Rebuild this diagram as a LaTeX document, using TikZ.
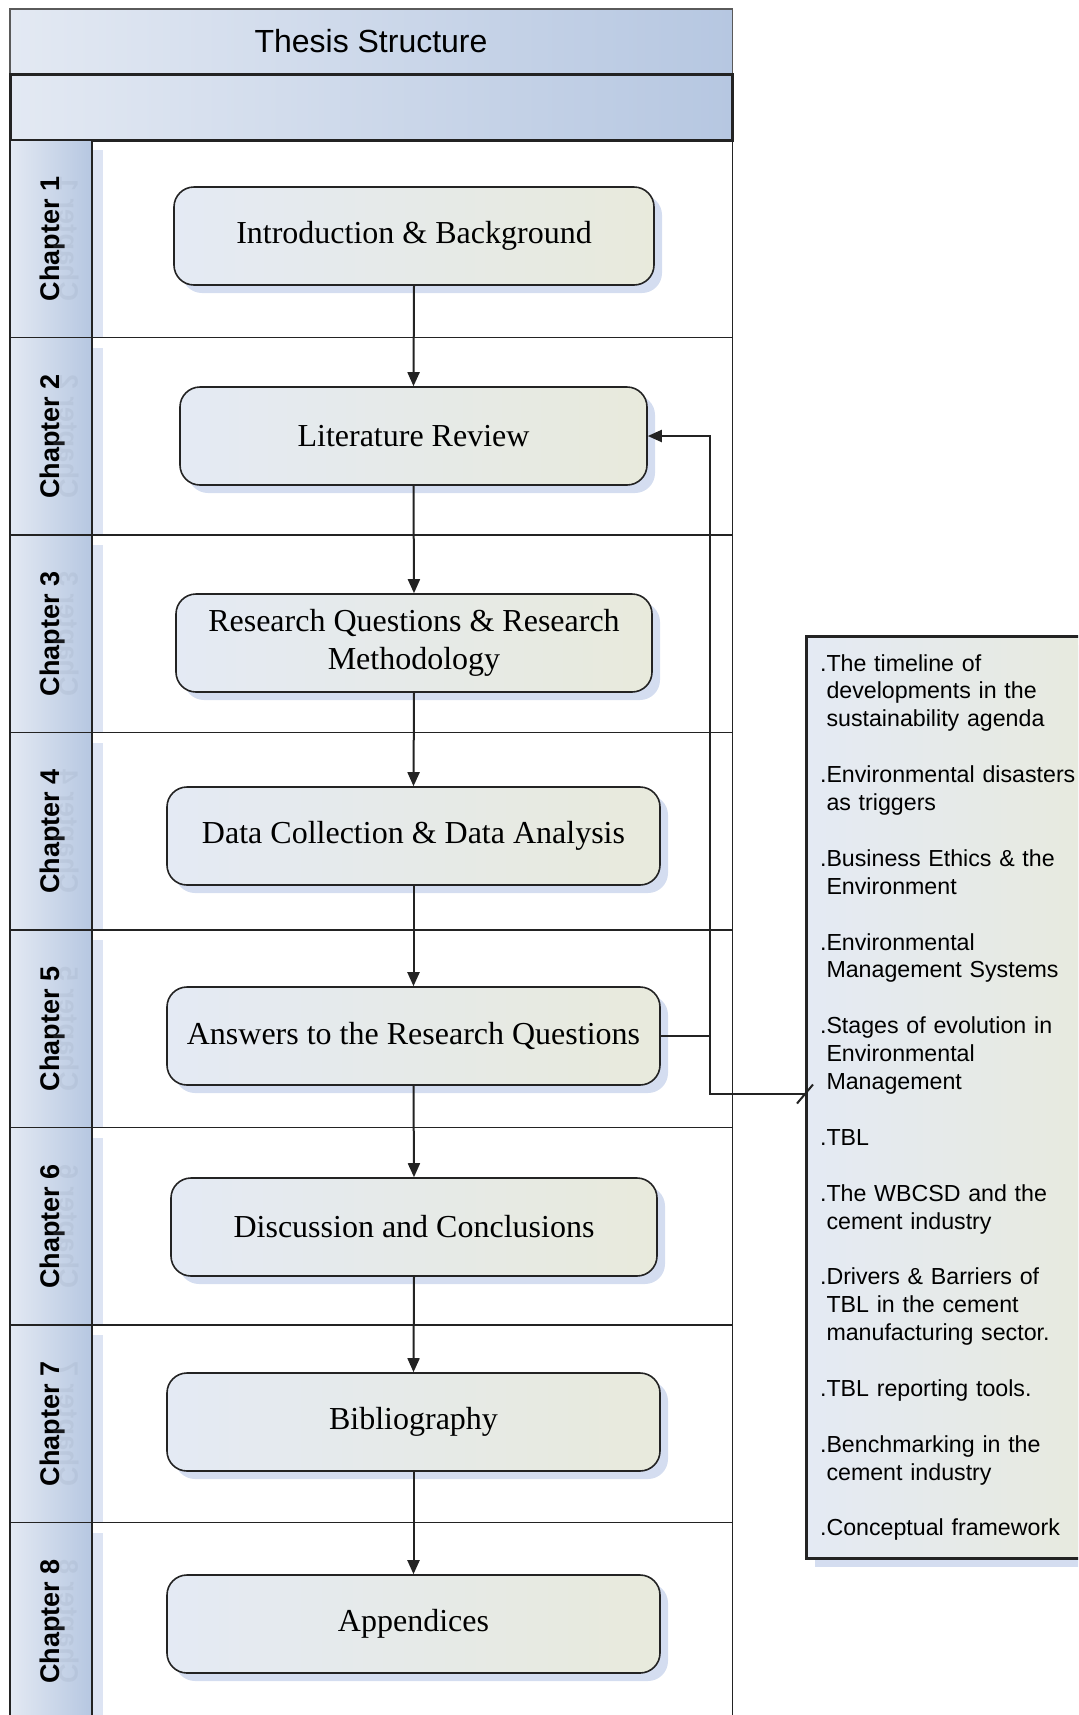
\documentclass[tikz,border=0pt]{standalone}
\usepackage{fontspec}
\setmainfont{Liberation Serif}
\setsansfont{Liberation Sans}
\usepackage{tikz}
\usetikzlibrary{arrows.meta}
\usetikzlibrary{shadows}
\definecolor{tshdlight}{RGB}{227,233,243}
\definecolor{tshddark}{RGB}{182,199,225}
\definecolor{tsboxleft}{RGB}{228,234,244}
\definecolor{tsboxright}{RGB}{232,234,220}
\definecolor{tsshadow}{RGB}{212,221,240}
\definecolor{tsblack}{RGB}{35,35,35}
\newcommand{\topicdot}{\leavevmode\llap{.}}

\tikzset{
    stagebox/.style={draw=tsblack, line width=0.8pt, rounded corners=10pt,
        left color=tsboxleft, right color=tsboxright,
        minimum height=49pt, align=center,
        font=\fontsize{16}{19}\selectfont,
        drop shadow={shadow xshift=4pt, shadow yshift=-4pt, fill=tsshadow, opacity=1}},
    lanelabel/.style={font=\sffamily\bfseries\fontsize{13.5}{16}\selectfont, inner sep=0pt},
    flowline/.style={tsblack, line width=1pt, -{Triangle[length=7pt,width=6pt]}},
}

\begin{document}
\begin{tikzpicture}[x=0.5pt,y=-0.5pt]
    \clip (0,0) rectangle (1078,1715);
    \useasboundingbox (0,0) rectangle (1078,1715);

    % Header bars
    \shade[left color=tshdlight, right color=tshddark, draw=tsblack!75, line width=0.8pt]
        (10,9) rectangle (732.5,74);
    \node[font=\sffamily\fontsize{16}{19}\selectfont] (title) at (371,41) {Thesis Structure};
    \shade[left color=tshdlight, right color=tshddark] (10,74) rectangle (732.5,140);
    \draw[tsblack, line width=1.5pt] (10,74) rectangle (732.5,140);

    % Chapter lanes
    \foreach \i in {1,...,8} {
        \pgfmathsetmacro{\lanetop}{140+197.5*(\i-1)}
        \shade[left color=tshdlight, right color=tshddark] (10,\lanetop) rectangle (92,\lanetop+197.5);
        \fill[tsshadow, opacity=0.8] (92,\lanetop+10) rectangle (103,\lanetop+197.5);
        \node[lanelabel, rotate=90, anchor=base] (ch\i) at (59,\lanetop+98.75) {Chapter \i};
        \node[lanelabel, rotate=90, yscale=-1, anchor=base, text=tshddark!80!black, opacity=0.18]
            at (60,\lanetop+98.75) {Chapter \i};
        \draw[tsblack, line width=0.8pt] (10,\lanetop) -- (732.5,\lanetop);
    }
    \draw[tsblack, line width=0.8pt] (10,140) -- (10,1715);
    \draw[tsblack, line width=0.8pt] (92,140) -- (92,1715);
    \draw[tsblack, line width=0.8pt] (732.5,140) -- (732.5,1715);

    % Stages
    \node[stagebox, minimum width=240pt] (intro) at (414,236) {Introduction \& Background};
    \node[stagebox, minimum width=233.5pt] (litrev) at (413.5,436) {Literature Review};
    \node[stagebox, minimum width=238pt] (resq) at (414,643) {Research Questions \& Research\\Methodology};
    \node[stagebox, minimum width=246.5pt] (data) at (413.5,836) {Data Collection \& Data Analysis};
    \node[stagebox, minimum width=246.5pt] (answers) at (413.5,1036) {Answers to the Research Questions};
    \node[stagebox, minimum width=243pt] (discuss) at (414,1227) {Discussion and Conclusions};
    \node[stagebox, minimum width=246.5pt] (biblio) at (413.5,1422) {Bibliography};
    \node[stagebox, minimum width=246.5pt] (append) at (413.5,1624) {Appendices};

    \foreach \a/\b in {intro/litrev, litrev/resq, resq/data, data/answers,
                       answers/discuss, discuss/biblio, biblio/append}
        \draw[flowline] (\a.south) -- (\b.north);

    % Topics of the literature review
    \node[draw=tsblack, line width=1.5pt, left color=tsboxleft, right color=tsboxright,
          anchor=north west, minimum height=461pt, text width=135pt, inner xsep=10pt,
          align=left, font=\sffamily\fontsize{11.6}{13.95}\selectfont,
          drop shadow={shadow xshift=4pt, shadow yshift=-4pt, fill=tsshadow, opacity=1}]
        (topics) at (805,635) {%
        \topicdot The timeline of\\developments in the\\sustainability agenda\\[13.95pt]
        \topicdot Environmental disasters\\as triggers\\[13.95pt]
        \topicdot Business Ethics \& the\\Environment\\[13.95pt]
        \topicdot Environmental\\Management Systems\\[13.95pt]
        \topicdot Stages of evolution in\\Environmental\\Management\\[13.95pt]
        \topicdot TBL\\[13.95pt]
        \topicdot The WBCSD and the\\cement industry\\[13.95pt]
        \topicdot Drivers \& Barriers of\\TBL in the cement\\manufacturing sector.\\[13.95pt]
        \topicdot TBL reporting tools.\\[13.95pt]
        \topicdot Benchmarking in the\\cement industry\\[13.95pt]
        \topicdot Conceptual framework};

    % Feedback to the literature review
    \coordinate (bend) at (709.5,1094);
    \draw[flowline] (bend -| topics.west) -- (bend) |- (litrev.east);
    \draw[tsblack, line width=1pt] (answers.east) -- (answers.east -| bend);
    \draw[tsblack, line width=1pt] ([xshift=-4pt,yshift=-4.75pt]bend -| topics.west) -- ([xshift=4pt,yshift=4.75pt]bend -| topics.west);
\end{tikzpicture}
\end{document}
